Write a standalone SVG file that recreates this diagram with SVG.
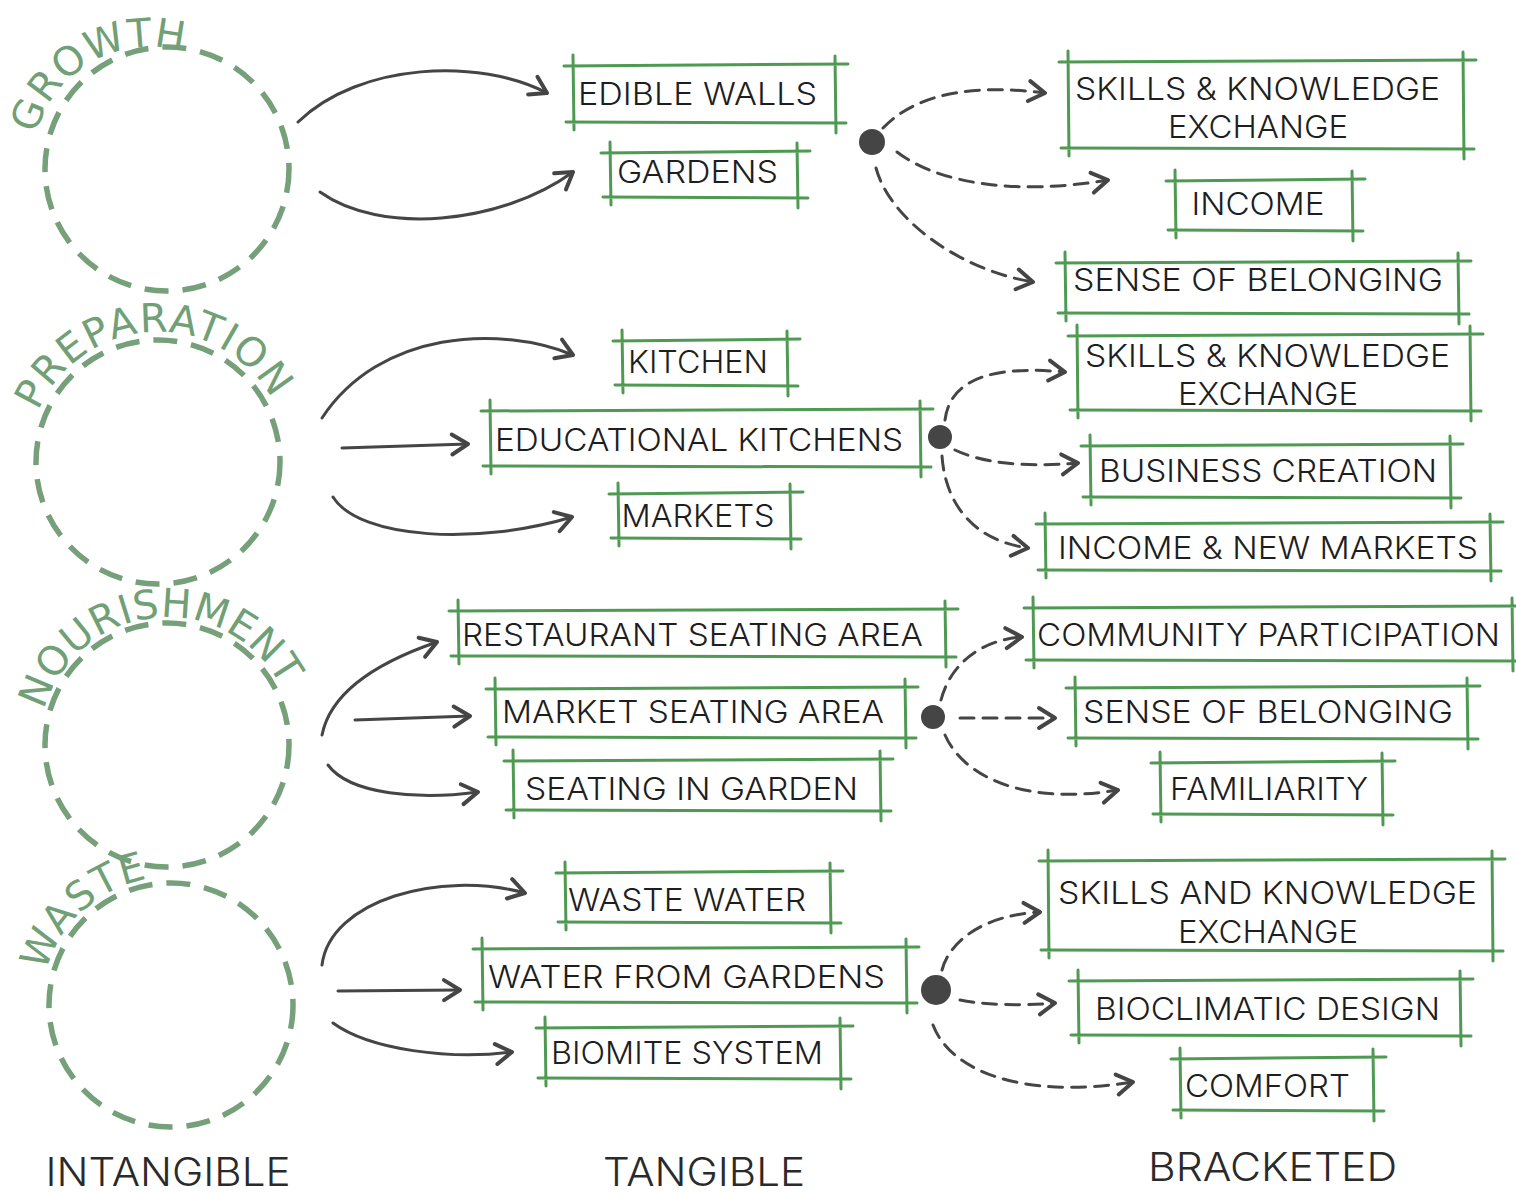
<svg xmlns="http://www.w3.org/2000/svg" width="1516" height="1192" viewBox="0 0 1516 1192">
<defs>
<style>
.bx{fill:none;stroke:#4f9a52;stroke-width:3;stroke-linecap:round}
.lbl{font-family:Inter,"DejaVu Sans",sans-serif;font-weight:300;font-size:31px;fill:#1e1e1e;text-anchor:middle}
.col{font-family:Inter,"DejaVu Sans",sans-serif;font-weight:300;font-size:39px;fill:#2a2a2a;text-anchor:middle}
.ring{fill:none;stroke:#76a079;stroke-width:5.5;stroke-dasharray:24 14}
.rt{font-family:"DejaVu Sans",sans-serif;font-size:40px;fill:#72a076}
.c{fill:none;stroke:#454545;stroke-width:3;stroke-linecap:round}
.cs{marker-end:url(#ah)}
.cd{stroke-dasharray:14 9;marker-end:url(#ah)}
.dot{fill:#454545}
</style>
<marker id="ah" markerUnits="userSpaceOnUse" markerWidth="28" markerHeight="28" viewBox="0 0 28 28" refX="24" refY="14" orient="auto">
<path d="M8,4 L24,14 L8,24" fill="none" stroke="#454545" stroke-width="4" stroke-linecap="round" stroke-linejoin="round"/>
</marker>
<path id="pGrowth" d="M36,134.5 A118,118 0 0,1 190.4,54.1"/>
<path id="pPrep" d="M38.3,411.2 A130,130 0 0,1 278.5,413.3"/>
<path id="pNour" d="M44,710 A128,128 0 0,1 288.7,705.4"/>
<path id="pWaste" d="M46,972 A128,128 0 0,1 153.2,878.2"/>
</defs>
<rect width="1516" height="1192" fill="#ffffff"/>

<g id="intangible">
<g id="growth"><circle class="ring" cx="167" cy="169" r="122"/><text class="rt"><textPath href="#pGrowth" textLength="188" lengthAdjust="spacing">GROWTH</textPath></text></g>
<g id="preparation"><circle class="ring" cx="158" cy="462" r="122"/><text class="rt"><textPath href="#pPrep" textLength="290" lengthAdjust="spacing">PREPARATION</textPath></text></g>
<g id="nourishment"><circle class="ring" cx="167" cy="745" r="122"/><text class="rt"><textPath href="#pNour" textLength="305" lengthAdjust="spacing">NOURISHMENT</textPath></text></g>
<g id="waste"><circle class="ring" cx="171" cy="1005" r="122"/><text class="rt"><textPath href="#pWaste" textLength="145" lengthAdjust="spacing">WASTE</textPath></text></g>
</g>

<g id="edible-walls"><path class="bx" d="M564,66 L848,64 M566,122 L846,123 M573,55 L574,130 M835,56 L836,133"/><text class="lbl" x="697.5" y="105" textLength="239" lengthAdjust="spacingAndGlyphs">EDIBLE WALLS</text></g>
<g id="gardens"><path class="bx" d="M601,153 L810,151 M603,197 L808,198 M610,142 L611,205 M797,143 L798,208"/><text class="lbl" x="697.5" y="183" textLength="161" lengthAdjust="spacingAndGlyphs">GARDENS</text></g>
<g id="skills-1"><path class="bx" d="M1059,62 L1476,60 M1061,148 L1474,149 M1068,51 L1069,156 M1463,52 L1464,159"/><text class="lbl" x="1257.5" y="100" textLength="365" lengthAdjust="spacingAndGlyphs">SKILLS &amp; KNOWLEDGE</text><text class="lbl" x="1258" y="138" textLength="180" lengthAdjust="spacingAndGlyphs">EXCHANGE</text></g>
<g id="income"><path class="bx" d="M1166,181 L1365,179 M1168,230 L1363,231 M1175,170 L1176,238 M1352,171 L1353,241"/><text class="lbl" x="1258" y="215" textLength="133" lengthAdjust="spacingAndGlyphs">INCOME</text></g>
<g id="belonging-1"><path class="bx" d="M1056,263 L1471,261 M1058,313 L1469,314 M1065,252 L1066,321 M1458,253 L1459,324"/><text class="lbl" x="1258" y="291" textLength="370" lengthAdjust="spacingAndGlyphs">SENSE OF BELONGING</text></g>

<g id="kitchen"><path class="bx" d="M613,341 L800,339 M615,385 L798,386 M622,330 L623,393 M787,331 L788,396"/><text class="lbl" x="698" y="373" textLength="140" lengthAdjust="spacingAndGlyphs">KITCHEN</text></g>
<g id="educational-kitchens"><path class="bx" d="M481,411 L933,409 M483,466 L931,467 M490,400 L491,474 M920,401 L921,477"/><text class="lbl" x="699" y="451" textLength="408" lengthAdjust="spacingAndGlyphs">EDUCATIONAL KITCHENS</text></g>
<g id="markets"><path class="bx" d="M609,494 L803,492 M611,538 L801,539 M618,483 L619,546 M790,484 L791,549"/><text class="lbl" x="698" y="527" textLength="153" lengthAdjust="spacingAndGlyphs">MARKETS</text></g>
<g id="skills-2"><path class="bx" d="M1068,336 L1483,334 M1070,410 L1481,411 M1077,325 L1078,418 M1470,326 L1471,421"/><text class="lbl" x="1267.5" y="367" textLength="365" lengthAdjust="spacingAndGlyphs">SKILLS &amp; KNOWLEDGE</text><text class="lbl" x="1268" y="405" textLength="180" lengthAdjust="spacingAndGlyphs">EXCHANGE</text></g>
<g id="business-creation"><path class="bx" d="M1081,446 L1463,444 M1083,497 L1461,498 M1090,435 L1091,505 M1450,436 L1451,508"/><text class="lbl" x="1268" y="482" textLength="338" lengthAdjust="spacingAndGlyphs">BUSINESS CREATION</text></g>
<g id="income-new-markets"><path class="bx" d="M1036,524 L1503,522 M1038,570 L1501,571 M1045,513 L1046,578 M1490,514 L1491,581"/><text class="lbl" x="1268" y="559" textLength="420" lengthAdjust="spacingAndGlyphs">INCOME &amp; NEW MARKETS</text></g>

<g id="restaurant-seating"><path class="bx" d="M449,611 L958,609 M451,656 L956,657 M458,600 L459,664 M945,601 L946,667"/><text class="lbl" x="692.5" y="646" textLength="461" lengthAdjust="spacingAndGlyphs">RESTAURANT SEATING AREA</text></g>
<g id="market-seating"><path class="bx" d="M486,689 L918,687 M488,737 L916,738 M495,678 L496,745 M905,679 L906,748"/><text class="lbl" x="693" y="723" textLength="382" lengthAdjust="spacingAndGlyphs">MARKET SEATING AREA</text></g>
<g id="seating-garden"><path class="bx" d="M504,761 L893,759 M506,810 L891,811 M513,750 L514,818 M880,751 L881,821"/><text class="lbl" x="691.5" y="800" textLength="333" lengthAdjust="spacingAndGlyphs">SEATING IN GARDEN</text></g>
<g id="community"><path class="bx" d="M1024,608 L1516,606 M1026,660 L1516,661 M1033,597 L1034,668 M1512,598 L1513,671"/><text class="lbl" x="1268.5" y="646" textLength="463" lengthAdjust="spacingAndGlyphs">COMMUNITY PARTICIPATION</text></g>
<g id="belonging-2"><path class="bx" d="M1066,688 L1480,686 M1068,738 L1478,739 M1075,677 L1076,746 M1467,678 L1468,749"/><text class="lbl" x="1268" y="723" textLength="370" lengthAdjust="spacingAndGlyphs">SENSE OF BELONGING</text></g>
<g id="familiarity"><path class="bx" d="M1151,763 L1395,761 M1153,814 L1393,815 M1160,752 L1161,822 M1382,753 L1383,825"/><text class="lbl" x="1269" y="800" textLength="198" lengthAdjust="spacingAndGlyphs">FAMILIARITY</text></g>

<g id="waste-water"><path class="bx" d="M556,873 L843,871 M558,922 L841,923 M565,862 L566,930 M830,863 L831,933"/><text class="lbl" x="687" y="911" textLength="238" lengthAdjust="spacingAndGlyphs">WASTE WATER</text></g>
<g id="water-gardens"><path class="bx" d="M473,949 L919,947 M475,1002 L917,1003 M482,938 L483,1010 M906,939 L907,1013"/><text class="lbl" x="686.5" y="988" textLength="397" lengthAdjust="spacingAndGlyphs">WATER FROM GARDENS</text></g>
<g id="biomite"><path class="bx" d="M536,1028 L853,1026 M538,1078 L851,1079 M545,1017 L546,1086 M840,1018 L841,1089"/><text class="lbl" x="687" y="1064" textLength="272" lengthAdjust="spacingAndGlyphs">BIOMITE SYSTEM</text></g>
<g id="skills-3"><path class="bx" d="M1039,861 L1505,859 M1041,950 L1503,951 M1048,850 L1049,958 M1492,851 L1493,961"/><text class="lbl" x="1267.5" y="904" textLength="419" lengthAdjust="spacingAndGlyphs">SKILLS AND KNOWLEDGE</text><text class="lbl" x="1268" y="943" textLength="180" lengthAdjust="spacingAndGlyphs">EXCHANGE</text></g>
<g id="bioclimatic"><path class="bx" d="M1069,981 L1473,979 M1071,1035 L1471,1036 M1078,970 L1079,1043 M1460,971 L1461,1046"/><text class="lbl" x="1267.5" y="1020" textLength="345" lengthAdjust="spacingAndGlyphs">BIOCLIMATIC DESIGN</text></g>
<g id="comfort"><path class="bx" d="M1171,1059 L1386,1057 M1173,1110 L1384,1111 M1180,1048 L1181,1118 M1373,1049 L1374,1121"/><text class="lbl" x="1267.5" y="1097" textLength="165" lengthAdjust="spacingAndGlyphs">COMFORT</text></g>

<g id="hub-1"><circle class="dot" cx="872" cy="142" r="13"/></g>
<g id="hub-2"><circle class="dot" cx="940" cy="437" r="12"/></g>
<g id="hub-3"><circle class="dot" cx="933" cy="717" r="12"/></g>
<g id="hub-4"><circle class="dot" cx="936" cy="990" r="15"/></g>

<g id="connectors">
<path class="c cs" d="M298,122 C360,62 480,58 547,93"/>
<path class="c cs" d="M320,192 C380,235 500,225 573,172"/>
<path class="c cs" d="M322,418 C380,330 500,325 573,355"/>
<path class="c cs" d="M342,448 L468,444"/>
<path class="c cs" d="M333,497 C360,540 480,545 572,517"/>
<path class="c cs" d="M322,735 C330,695 370,665 437,642"/>
<path class="c cs" d="M355,720 L470,716"/>
<path class="c cs" d="M328,765 C350,795 420,800 478,792"/>
<path class="c cs" d="M322,965 C330,900 440,870 525,893"/>
<path class="c cs" d="M338,991 L460,990"/>
<path class="c cs" d="M333,1023 C370,1050 450,1060 512,1052"/>

<path class="c cd" d="M883,128 C920,90 980,85 1045,93"/>
<path class="c cd" d="M897,152 C940,185 1020,195 1108,180"/>
<path class="c cd" d="M876,168 C890,220 960,270 1033,282"/>
<path class="c cd" d="M945,420 C950,380 990,365 1065,372"/>
<path class="c cd" d="M955,450 C980,462 1020,468 1078,463"/>
<path class="c cd" d="M942,456 C945,500 970,540 1028,548"/>
<path class="c cd" d="M941,700 C950,665 980,640 1022,637"/>
<path class="c cd" d="M960,718 L1055,718"/>
<path class="c cd" d="M945,735 C965,780 1030,805 1118,790"/>
<path class="c cd" d="M942,970 C950,940 985,915 1040,912"/>
<path class="c cd" d="M960,1000 C985,1005 1020,1006 1055,1003"/>
<path class="c cd" d="M933,1025 C950,1070 1020,1100 1133,1082"/>
</g>

<g id="column-labels">
<text class="col" x="168" y="1186" textLength="245" lengthAdjust="spacingAndGlyphs">INTANGIBLE</text>
<text class="col" x="704" y="1186" textLength="202" lengthAdjust="spacingAndGlyphs">TANGIBLE</text>
<text class="col" x="1272.5" y="1181" textLength="249" lengthAdjust="spacingAndGlyphs">BRACKETED</text>
</g>
</svg>
